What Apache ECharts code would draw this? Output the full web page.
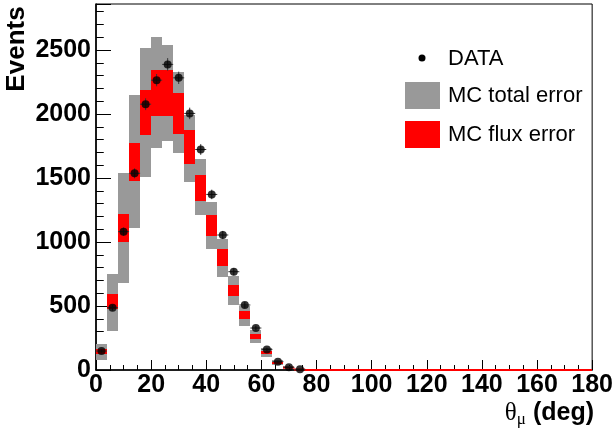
<!DOCTYPE html>
<html>
<head>
<meta charset="utf-8">
<script src="https://cdn.jsdelivr.net/npm/echarts@6/dist/echarts.min.js"></script>
<style>
html,body{margin:0;padding:0;background:#fff;}
#chart{width:616px;height:435px;}
</style>
</head>
<body>
<div id="chart"></div>
<script>
// ---- data ----
const binLow = [0,4,8,12,16,20,24,28,32,36,40,44,48,52,56,60,64,68,72,76,80,84,88,92,96,100,104,108,112,116,120,124,128,132,136,140,144,148,152,156,160,164,168,172,176];
const binWidth = 4;
const totalLo = [82,304,679,1107,1509,1731,1790,1692,1469,1209,945,729,510,344,213,104,39,14,2,0,0,0,0,0,0,0,0,0,0,0,0,0,0,0,0,0,0,0,0,0,0,0,0,0,0];
const totalHi = [200,753,1536,2148,2513,2604,2539,2330,1991,1647,1313,1021,734,502,312,169,76,31,10,0,0,0,0,0,0,0,0,0,0,0,0,0,0,0,0,0,0,0,0,0,0,0,0,0,0];
const fluxLo  = [127,473,998,1475,1835,1984,1984,1848,1613,1321,1047,812,578,398,240,127,50,18,4,0,0,0,0,0,0,0,0,0,0,0,0,0,0,0,0,0,0,0,0,0,0,0,0,0,0];
const fluxHi  = [166,591,1217,1770,2187,2343,2343,2166,1874,1522,1211,945,664,461,284,148,65,26,8,0,0,0,0,0,0,0,0,0,0,0,0,0,0,0,0,0,0,0,0,0,0,0,0,0,0];
const dataVals = [148,487,1081,1537,2077,2265,2388,2283,2005,1723,1372,1055,768,508,328,161,65,21,5];
const dataErr  = [12,22,33,39,46,48,49,48,45,42,37,32,28,23,18,13,8,5,2];
const xTicks = [0,20,40,60,80,100,120,140,160,180];
const yTicks = [0,500,1000,1500,2000,2500];
const yMax = 2860;

const FONT = '"Liberation Sans", Arial, Helvetica, sans-serif';

const totalData = binLow.map((x,i)=>[x, x+binWidth, totalLo[i], totalHi[i]]);
const fluxData  = binLow.map((x,i)=>[x, x+binWidth, fluxLo[i], fluxHi[i]]);
const pts = dataVals.map((v,i)=>[binLow[i]+binWidth/2, v]);
const errData = dataVals.map((v,i)=>[binLow[i]+binWidth/2, v, binWidth/2, dataErr[i]]);

function bandRender(color, minH){
  return function(params, api){
    const p1 = api.coord([api.value(0), api.value(3)]);
    const p2 = api.coord([api.value(1), api.value(2)]);
    const x1 = Math.round(p1[0]), x2 = Math.round(p2[0]);
    let y1 = Math.round(p1[1]), y2 = Math.round(p2[1]);
    let y = y1, h = y2 - y1;
    if (minH && h < minH){ y = p2[1] - minH/2; h = minH; }
    if (!minH && h <= 0) return null;
    return {type:'rect', shape:{x:x1, y:y, width:x2-x1, height:h}, style:{fill:color}};
  };
}

const chart = echarts.init(document.getElementById('chart'), null, {renderer:'canvas'});
chart.setOption({
  animation:false,
  backgroundColor:'#fff',
  grid:{left:96, right:22, top:4, bottom:65, show:true, borderColor:'#000', borderWidth:1, backgroundColor:'transparent'},
  xAxis:{
    type:'value', min:xTicks[0], max:xTicks[xTicks.length-1], interval:20,
    axisLine:{show:true, onZero:false, lineStyle:{color:'#000', width:1.6}},
    axisTick:{show:true, inside:true, length:10, lineStyle:{color:'#000', width:1}},
    minorTick:{show:true, splitNumber:4, length:5, lineStyle:{color:'#000', width:1}},
    splitLine:{show:false},
    axisLabel:{fontFamily:FONT, fontWeight:'bold', fontSize:25, color:'#000', margin:3, formatter:v=>String(v)}
  },
  yAxis:[{
    type:'value', min:yTicks[0], max:yMax, interval:500,
    axisLine:{show:true, onZero:false, lineStyle:{color:'#000', width:1.6}},
    axisTick:{show:true, inside:true, length:15, lineStyle:{color:'#000', width:1}},
    minorTick:{show:true, splitNumber:5, length:7.5, lineStyle:{color:'#000', width:1}},
    splitLine:{show:false},
    axisLabel:{fontFamily:FONT, fontWeight:'bold', fontSize:25, color:'#000', margin:5, showMaxLabel:false, formatter:v=>String(v)}
  },{
    type:'value', min:0, max:yMax, interval:100, position:'left', offset:0,
    axisLine:{show:false},
    axisTick:{show:true, inside:true, length:7.5, lineStyle:{color:'#000', width:1}},
    splitLine:{show:false},
    axisLabel:{show:false}
  }],
  series:[
    {type:'custom', name:'MC total error', renderItem:bandRender('#999999', 0), data:totalData,
     encode:{x:[0,1], y:[2,3]}, z:1, silent:true},
    {type:'custom', name:'MC flux error', renderItem:bandRender('#ff0000', 2), data:fluxData,
     encode:{x:[0,1], y:[2,3]}, z:2, silent:true},
    {type:'custom', name:'err', data:errData, encode:{x:0, y:1}, z:3, silent:true,
     renderItem:function(params, api){
       const x = api.value(0), y = api.value(1), dx = api.value(2), dy = api.value(3);
       const a = api.coord([x-dx, y]), b = api.coord([x+dx, y]);
       const c = api.coord([x, y-dy]), d = api.coord([x, y+dy]);
       return {type:'group', children:[
         {type:'line', shape:{x1:a[0], y1:a[1], x2:b[0], y2:b[1]}, style:{stroke:'#333', lineWidth:1}},
         {type:'line', shape:{x1:c[0], y1:c[1], x2:d[0], y2:d[1]}, style:{stroke:'#333', lineWidth:1}}
       ]};
     }},
    {type:'scatter', name:'DATA', data:pts, symbol:'circle', symbolSize:8, itemStyle:{color:'#000'}, z:4, silent:true}
  ],
  graphic:[
    {type:'circle', shape:{cx:422, cy:58, r:3.5}, style:{fill:'#000'}, z:10},
    {type:'text', x:448, y:59, style:{text:'DATA', font:'22px '+FONT, fill:'#000', verticalAlign:'middle'}, z:10},
    {type:'rect', shape:{x:405, y:82, width:35, height:27}, style:{fill:'#999999'}, z:10},
    {type:'text', x:448, y:96, style:{text:'MC total error', font:'22px '+FONT, fill:'#000', verticalAlign:'middle'}, z:10},
    {type:'rect', shape:{x:405, y:121, width:35, height:27}, style:{fill:'#ff0000'}, z:10},
    {type:'text', x:448, y:135, style:{text:'MC flux error', font:'22px '+FONT, fill:'#000', verticalAlign:'middle'}, z:10},
    {type:'text', x:17, y:49, rotation:Math.PI/2,
     style:{text:'Events', font:'bold 26px '+FONT, fill:'#000', align:'center', verticalAlign:'middle'}, z:10},
    {type:'text', x:594, y:413,
     style:{text:'{t|θ}{m|μ}{d| (deg)}', align:'right', verticalAlign:'middle', fill:'#000',
       rich:{
         t:{fontFamily:'"Liberation Serif", "DejaVu Serif", serif', fontSize:25, fill:'#000', verticalAlign:'middle'},
         m:{fontFamily:'"Liberation Serif", "DejaVu Serif", serif', fontSize:17, fill:'#000', padding:[14,0,0,0]},
         d:{fontFamily:FONT, fontWeight:'bold', fontSize:25, fill:'#000'}
       }}, z:10}
  ]
});
</script>
</body>
</html>
